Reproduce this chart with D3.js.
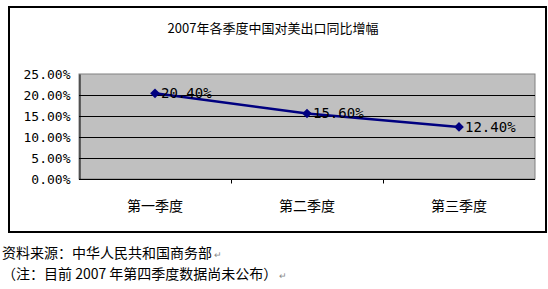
<!DOCTYPE html>
<html>
<head>
<meta charset="utf-8">
<script src="https://cdn.jsdelivr.net/npm/d3@7"></script>
<style>
  body { margin: 0; background: #fff; }
  text { font-family: "Noto Sans CJK SC", sans-serif; }
  .num { font-family: "DejaVu Sans Mono", monospace; }
</style>
</head>
<body>
<svg id="chart" width="548" height="289"></svg>
<script>
const title = '2007年各季度中国对美出口同比增幅';
const categories = ['第一季度', '第二季度', '第三季度'];
const growth = [0.204, 0.156, 0.124];
const yTicks = [0, 0.05, 0.10, 0.15, 0.20, 0.25];
const notes = ['资料来源：中华人民共和国商务部', '（注：目前 2007 年第四季度数据尚未公布）'];

const svg = d3.select('#chart');
const plot = { left: 79, right: 535, top: 74, bottom: 179 };

// outer frame
svg.append('rect')
    .attr('x', 9).attr('y', 7)
    .attr('width', 537).attr('height', 225)
    .attr('fill', '#fff')
    .attr('stroke', '#000')
    .attr('stroke-width', 2);

svg.append('text')
    .attr('x', 273).attr('y', 33)
    .attr('text-anchor', 'middle')
    .attr('font-size', 13)
    .text(title);

const x = d3.scaleBand()
    .domain(categories)
    .range([plot.left, plot.right]);

const y = d3.scaleLinear()
    .domain([0, 0.25])
    .range([plot.bottom, plot.top]);

// plot area
svg.append('rect')
    .attr('x', plot.left).attr('y', plot.top)
    .attr('width', plot.right - plot.left)
    .attr('height', plot.bottom - plot.top)
    .attr('fill', '#c0c0c0')
    .attr('stroke', '#808080');

// gridlines
svg.append('g')
    .selectAll('line')
    .data(yTicks.filter(d => d > 0 && d < 0.25))
    .enter().append('line')
    .attr('x1', plot.left).attr('x2', plot.right)
    .attr('y1', d => Math.round(y(d)) + 0.5)
    .attr('y2', d => Math.round(y(d)) + 0.5)
    .attr('stroke', '#000');

// y axis
const yAxis = svg.append('g')
    .attr('transform', `translate(${plot.left + 0.5},0)`)
    .call(d3.axisLeft(y).tickValues(yTicks).tickFormat(d3.format('.2%')).tickSize(0).tickPadding(9));
yAxis.select('.domain').attr('stroke', '#000');
yAxis.selectAll('text').attr('class', 'num').attr('font-size', 13).attr('fill', '#000');

// x axis
const xAxis = svg.append('g')
    .attr('transform', `translate(0,${plot.bottom + 0.5})`);
xAxis.append('line')
    .attr('x1', plot.left).attr('x2', plot.right)
    .attr('stroke', '#000');
xAxis.selectAll('.tk')
    .data(categories.slice(1))
    .enter().append('line')
    .attr('class', 'tk')
    .attr('x1', d => Math.round(x(d)) + 0.5)
    .attr('x2', d => Math.round(x(d)) + 0.5)
    .attr('y1', 0).attr('y2', 4)
    .attr('stroke', '#000');
xAxis.selectAll('.lbl')
    .data(categories)
    .enter().append('text')
    .attr('class', 'lbl')
    .attr('x', d => x(d) + x.bandwidth() / 2)
    .attr('y', 31)
    .attr('text-anchor', 'middle')
    .attr('font-size', 14)
    .text(d => d);

// series
const pts = categories.map((c, i) => ({ c, v: growth[i] }));
const line = d3.line()
    .x(d => x(d.c) + x.bandwidth() / 2)
    .y(d => y(d.v));

svg.append('path')
    .datum(pts)
    .attr('d', line)
    .attr('fill', 'none')
    .attr('stroke', '#000080')
    .attr('stroke-width', 2.5);

svg.selectAll('.marker')
    .data(pts)
    .enter().append('path')
    .attr('class', 'marker')
    .attr('d', d3.symbol(d3.symbolDiamond2, 60))
    .attr('transform', d => `translate(${x(d.c) + x.bandwidth() / 2},${y(d.v)})`)
    .attr('fill', '#000080');

svg.selectAll('.val')
    .data(pts)
    .enter().append('text')
    .attr('class', 'val num')
    .attr('x', d => x(d.c) + x.bandwidth() / 2 + 6)
    .attr('y', d => y(d.v) + 5)
    .attr('font-size', 14)
    .text(d => d3.format('.2%')(d.v));

// footnotes
notes.forEach((n, i) => {
    const t = svg.append('text')
        .attr('x', 2)
        .attr('y', 258 + i * 21)
        .attr('font-size', 14);
    t.append('tspan').text(n);
    t.append('tspan').attr('font-size', 9).attr('fill', '#888').attr('dx', 2).text('↵');
});
</script>
</body>
</html>
